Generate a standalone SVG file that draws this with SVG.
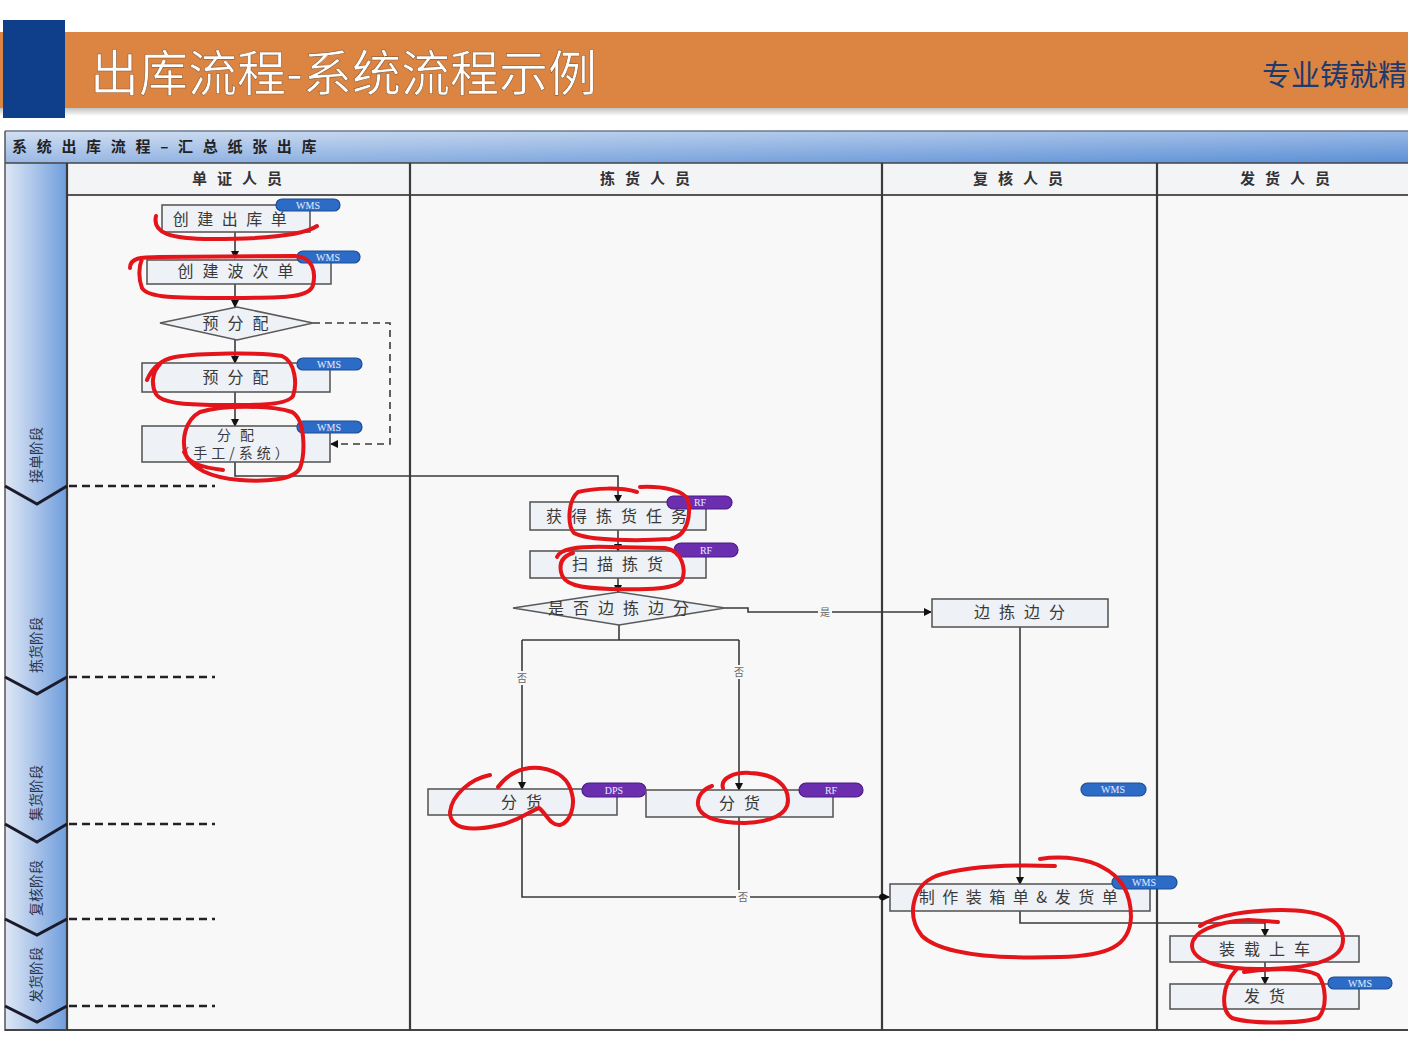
<svg xmlns="http://www.w3.org/2000/svg" width="1408" height="1039" viewBox="0 0 1408 1039">
<defs>
<linearGradient id="gBar" x1="0" y1="0" x2="1" y2="1">
<stop offset="0" stop-color="#d3e0f1"/>
<stop offset="0.5" stop-color="#98b8e4"/>
<stop offset="1" stop-color="#5b8fd6"/>
</linearGradient>
<linearGradient id="gPhase" x1="0" y1="0" x2="1" y2="0">
<stop offset="0" stop-color="#dfe8f5"/>
<stop offset="0.6" stop-color="#9dbbe6"/>
<stop offset="1" stop-color="#6e9edc"/>
</linearGradient>
<linearGradient id="gShadow" x1="0" y1="0" x2="0" y2="1">
<stop offset="0" stop-color="#9a9a9a"/>
<stop offset="1" stop-color="#ffffff"/>
</linearGradient>
<marker id="arr" markerWidth="8" markerHeight="8" refX="7" refY="4" orient="auto" markerUnits="userSpaceOnUse">
<path d="M0,0 L8,4 L0,8 Z" fill="#111"/>
</marker>
<style>
.box{fill:#eef1f6;stroke:#5a5a5a;stroke-width:1.6}
.nt{font-family:"Noto Sans CJK SC","Noto Sans CJK JP",sans-serif;font-size:16px;fill:#3a3a3a;letter-spacing:9px;text-anchor:middle}
.hd{font-family:"Noto Sans CJK SC",sans-serif;font-size:15px;font-weight:bold;fill:#333;letter-spacing:10px;text-anchor:middle}
.ph{font-family:"Noto Sans CJK SC",sans-serif;font-size:14px;fill:#2a3550;text-anchor:middle}
.wms{fill:#2d6cc6;stroke:#1b4c94;stroke-width:1.2}
.rf{fill:#6a2eae;stroke:#4a1a86;stroke-width:1.2}
.pt{font-family:"Liberation Serif",serif;font-size:10px;fill:#e6eeff;text-anchor:middle}
.ln{fill:none;stroke:#3a3a3a;stroke-width:1.6}
.lane{stroke:#3a3a3a;stroke-width:2.2}
.pd{stroke:#222;stroke-width:2.5;stroke-dasharray:8 5}
.chev{fill:none;stroke:#1a1a2a;stroke-width:3}
.lbl{font-family:"Noto Sans CJK SC",sans-serif;font-size:10px;fill:#666;text-anchor:middle}
.red{fill:none;stroke:#e3141a;stroke-width:4;stroke-linecap:round;stroke-linejoin:round}
</style>
</defs>
<rect x="0" y="0" width="1408" height="1039" fill="#ffffff"/>
<!-- header band -->
<g id="header">
<rect x="0" y="108" width="1408" height="8" fill="url(#gShadow)" opacity="0.6"/>
<rect x="0" y="32" width="1408" height="76" fill="#dc8442"/>
<rect x="3" y="20" width="62" height="98" fill="#0f3f8a"/>
<text x="90" y="91" font-family="Noto Sans CJK SC,sans-serif" font-size="49" fill="#ffffff" stroke="#8a5a30" stroke-width="0.6">出库流程-系统流程示例</text>
<text x="1262" y="86" font-family="Noto Sans CJK SC,sans-serif" font-size="29" fill="#1d3a6e">专业铸就精</text>
</g>
<!-- table -->
<g id="table">
<rect x="5" y="131" width="1403" height="32" fill="url(#gBar)"/>
<line x1="5" y1="131" x2="1408" y2="131" stroke="#6a7a90" stroke-width="1.5"/>
<text x="12" y="152" font-family="Noto Sans CJK SC,sans-serif" font-size="15" font-weight="bold" fill="#222" letter-spacing="9.7">系统出库流程–汇总纸张出库</text>
<rect x="67" y="163" width="1341" height="867" fill="#f8f8f8"/>
<rect x="67" y="163" width="1341" height="32" fill="#f3f4f6"/>
<rect x="5" y="163" width="62" height="867" fill="url(#gPhase)"/>
<line x1="5" y1="163" x2="1408" y2="163" stroke="#444" stroke-width="1.5"/>
<line x1="67" y1="195" x2="1408" y2="195" stroke="#555" stroke-width="2.2"/>
<line x1="5" y1="131" x2="5" y2="1031" stroke="#555" stroke-width="1.5"/>
<line x1="5" y1="1030" x2="1408" y2="1030" stroke="#444" stroke-width="2"/>
<line class="lane" x1="67" y1="163" x2="67" y2="1030"/>
<line class="lane" x1="410" y1="163" x2="410" y2="1030"/>
<line class="lane" x1="882" y1="163" x2="882" y2="1030"/>
<line class="lane" x1="1157" y1="163" x2="1157" y2="1030"/>
<text class="hd" x="242" y="184">单证人员</text>
<text class="hd" x="650" y="184">拣货人员</text>
<text class="hd" x="1023" y="184">复核人员</text>
<text class="hd" x="1290" y="184">发货人员</text>
</g>
<!-- phases -->
<g id="phases">
<text class="ph" transform="translate(41,455) rotate(-90)">接单阶段</text>
<text class="ph" transform="translate(41,645) rotate(-90)">拣货阶段</text>
<text class="ph" transform="translate(41,793) rotate(-90)">集货阶段</text>
<text class="ph" transform="translate(41,888) rotate(-90)">复核阶段</text>
<text class="ph" transform="translate(41,975) rotate(-90)">发货阶段</text>
<path class="chev" d="M5,486 L37,504 L67,486"/>
<path class="chev" d="M5,677 L37,694 L67,677"/>
<path class="chev" d="M5,824 L37,842 L67,824"/>
<path class="chev" d="M5,919 L37,935 L67,919"/>
<path class="chev" d="M5,1006 L37,1022 L67,1006"/>
<line class="pd" x1="69" y1="486" x2="215" y2="486"/>
<line class="pd" x1="69" y1="677" x2="215" y2="677"/>
<line class="pd" x1="69" y1="824" x2="215" y2="824"/>
<line class="pd" x1="69" y1="919" x2="215" y2="919"/>
<line class="pd" x1="69" y1="1006" x2="215" y2="1006"/>
</g>
<!-- connectors -->
<g id="connectors">
<path class="ln" d="M235,232 L235,258" marker-end="url(#arr)"/>
<path class="ln" d="M235,284 L235,307" marker-end="url(#arr)"/>
<path class="ln" d="M235,340 L235,363" marker-end="url(#arr)"/>
<path class="ln" d="M235,392 L235,426" marker-end="url(#arr)"/>
<path class="ln" d="M313,323 L390,323 L390,444 L331,444" stroke-dasharray="7 5" marker-end="url(#arr)"/>
<path class="ln" d="M235,462 L235,476 L618,476 L618,502" marker-end="url(#arr)"/>
<path class="ln" d="M618,530 L618,551" marker-end="url(#arr)"/>
<path class="ln" d="M618,578 L618,592" marker-end="url(#arr)"/>
<path class="ln" d="M725,608 L748,608 L748,612 L931,612" marker-end="url(#arr)"/>
<path class="ln" d="M619,625 L619,640 M522,640 L739,640"/>
<path class="ln" d="M522,640 L522,789" marker-end="url(#arr)"/>
<path class="ln" d="M739,640 L739,790" marker-end="url(#arr)"/>
<path class="ln" d="M522,815 L522,897 L889,897" marker-end="url(#arr)"/>
<path class="ln" d="M739,817 L739,897"/>
<circle cx="882" cy="897" r="3" fill="#111"/>
<path class="ln" d="M1020,627 L1020,884" marker-end="url(#arr)"/>
<path class="ln" d="M1020,911 L1020,923 L1265,923 L1265,936" marker-end="url(#arr)"/>
<path class="ln" d="M1265,962 L1265,984" marker-end="url(#arr)"/>
<rect x="818" y="605" width="14" height="14" fill="#f8f8f8"/>
<text class="lbl" x="825" y="616">是</text>
<rect x="515" y="671" width="14" height="14" fill="#f8f8f8"/>
<text class="lbl" x="522" y="682">否</text>
<rect x="732" y="665" width="14" height="14" fill="#f8f8f8"/>
<text class="lbl" x="739" y="676">否</text>
<rect x="736" y="890" width="14" height="14" fill="#f8f8f8"/>
<text class="lbl" x="743" y="901">否</text>
</g>
<!-- nodes -->
<g id="n-create-out">
<rect class="box" x="162" y="205" width="148" height="27"/>
<rect class="wms" x="276" y="199" width="64" height="12" rx="6"/>
<text class="pt" x="308" y="208.5">WMS</text>
<text class="nt" x="234" y="225" style="letter-spacing:8.5px">创建出库单</text>
</g>
<g id="n-create-wave">
<rect class="box" x="147" y="260" width="184" height="24"/>
<rect class="wms" x="297" y="251" width="63" height="12" rx="6"/>
<text class="pt" x="328" y="260.5">WMS</text>
<text class="nt" x="240" y="277">创建波次单</text>
</g>
<g id="n-prealloc-d">
<polygon class="box" points="160,323 237,307 313,323 237,340"/>
<text class="nt" x="240" y="329">预分配</text>
</g>
<g id="n-prealloc">
<rect class="box" x="142" y="363" width="188" height="29"/>
<rect class="wms" x="297" y="358" width="65" height="12" rx="6"/>
<text class="pt" x="329" y="367.5">WMS</text>
<text class="nt" x="240" y="383">预分配</text>
</g>
<g id="n-alloc">
<rect class="box" x="142" y="426" width="188" height="36"/>
<rect class="wms" x="297" y="421" width="65" height="12" rx="6"/>
<text class="pt" x="329" y="430.5">WMS</text>
<text class="nt" x="240" y="440" style="font-size:14px">分配</text>
<text class="nt" x="234" y="458" style="font-size:14px;letter-spacing:4px">（手工/系统）</text>
</g>
<g id="n-get-task">
<rect class="box" x="530" y="502" width="176" height="28"/>
<rect class="rf" x="667" y="496" width="65" height="13" rx="6.5"/>
<text class="pt" x="700" y="506">RF</text>
<text class="nt" x="621" y="522">获得拣货任务</text>
</g>
<g id="n-scan">
<rect class="box" x="530" y="551" width="176" height="27"/>
<rect class="rf" x="674" y="543" width="64" height="14" rx="7"/>
<text class="pt" x="706" y="553.5">RF</text>
<text class="nt" x="622" y="570">扫描拣货</text>
</g>
<g id="n-decide">
<polygon class="box" points="513,608 619,592 725,608 619,625"/>
<text class="nt" x="623" y="614">是否边拣边分</text>
</g>
<g id="n-pick-sort">
<rect class="box" x="932" y="599" width="176" height="28"/>
<text class="nt" x="1024" y="618">边拣边分</text>
</g>
<g id="n-sort-dps">
<rect class="box" x="428" y="789" width="189" height="26"/>
<rect class="rf" x="582" y="783" width="64" height="14" rx="7"/>
<text class="pt" x="614" y="793.5">DPS</text>
<text class="nt" x="526" y="808">分货</text>
</g>
<g id="n-sort-rf">
<rect class="box" x="646" y="790" width="187" height="27"/>
<rect class="rf" x="799" y="783" width="64" height="14" rx="7"/>
<text class="pt" x="831" y="793.5">RF</text>
<text class="nt" x="744" y="809">分货</text>
</g>
<g id="n-wms-free">
<rect class="wms" x="1081" y="783" width="65" height="13" rx="6.5"/>
<text class="pt" x="1113" y="793">WMS</text>
</g>
<g id="n-packlist">
<rect class="box" x="890" y="884" width="260" height="27"/>
<rect class="wms" x="1112" y="876" width="65" height="13" rx="6.5"/>
<text class="pt" x="1144" y="886">WMS</text>
<text class="nt" x="1022" y="903" style="letter-spacing:7.5px">制作装箱单&amp;发货单</text>
</g>
<g id="n-load">
<rect class="box" x="1170" y="936" width="189" height="26"/>
<text class="nt" x="1269" y="955">装载上车</text>
</g>
<g id="n-ship">
<rect class="box" x="1170" y="984" width="189" height="25"/>
<rect class="wms" x="1328" y="977" width="64" height="12" rx="6"/>
<text class="pt" x="1360" y="986.5">WMS</text>
<text class="nt" x="1269" y="1002">发货</text>
</g>
<!-- red hand annotations -->
<g id="annotations">
<path class="red" d="M156,216 C152,233 170,239 212,239 C262,239 302,236 317,226"/>
<path class="red" d="M130,268 C130,258 140,257 160,257 L295,256 C313,257 316,272 313,285 C310,297 290,298 230,298 C175,298 148,298 142,288 C138,278 139,266 142,259"/>
<path class="red" d="M147,380 C152,368 160,360 175,357 C200,353 260,352 282,356 C296,362 297,385 293,396 C287,405 260,405 225,405 C190,405 162,404 156,394 C151,385 152,372 160,364"/>
<path class="red" d="M223,470 C205,468 190,464 186,455 C181,440 185,420 200,412 C222,405 270,405 292,412 C306,420 305,455 300,468 C294,480 265,482 240,480 C214,478 192,470 184,452"/>
<path class="red" d="M637,492 C620,487 595,488 578,492 C568,500 567,525 574,533 C588,541 640,541 670,539 C688,536 691,515 688,500 C684,490 662,486 640,487"/>
<path class="red" d="M557,557 C560,549 575,546 610,547 L665,548 C683,551 686,570 682,580 C677,589 650,590 610,589 C580,588 563,585 561,572 C559,562 563,556 573,553"/>
<path class="red" d="M490,775 C470,779 452,795 450,812 C450,829 470,832 500,825 C520,820 530,811 539,808 C546,813 550,826 560,825 C571,822 575,805 572,794 C569,780 560,771 540,768 C520,766 506,776 498,787"/>
<path class="red" d="M723,788 C720,778 735,772 750,773 C776,774 788,786 788,800 C788,815 770,822 745,823 C720,823 700,818 698,805 C697,795 705,788 712,786"/>
<path class="red" d="M1040,859 C1065,855 1090,860 1102,867 C1122,877 1131,895 1131,917 C1130,946 1108,956 1060,957 C1000,959 942,955 922,936 C906,916 912,886 936,876 C962,867 1000,864 1055,866"/>
<path class="red" d="M1278,922 L1248,920 C1214,922 1192,932 1192,946 C1193,963 1226,970 1266,969 C1312,968 1343,960 1343,940 C1343,920 1320,910 1282,910 C1250,910 1216,915 1200,926"/>
<path class="red" d="M1236,970 C1222,985 1220,1010 1232,1018 C1250,1024 1300,1024 1318,1018 C1328,1008 1326,985 1318,975 C1305,968 1270,968 1244,972"/>
</g>
</svg>
